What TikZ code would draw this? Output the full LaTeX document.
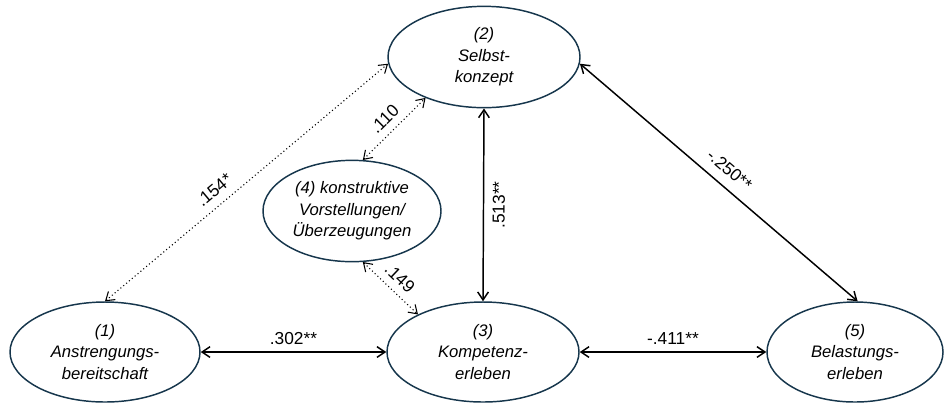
\documentclass[tikz,border=0pt]{standalone}
\usepackage{fontspec}
\setmainfont{Liberation Sans}
\usetikzlibrary{arrows.meta,shapes.geometric}
\definecolor{rim}{RGB}{22,54,76}

\begin{document}
\begin{tikzpicture}[x=0.75pt,y=-0.75pt,
	latent/.style={ellipse,draw=rim,line width=1.1pt,inner sep=0pt,align=center,
		font=\fontsize{12.5}{16}\selectfont\itshape},
	cor/.style={line width=1.1pt,{Straight Barb[length=6pt,width=8pt]}-{Straight Barb[length=6pt,width=8pt]}},
	weak/.style={line width=0.8pt,dotted,{Straight Barb[length=6pt,width=8pt]}-{Straight Barb[length=6pt,width=8pt]}},
	coef/.style={font=\fontsize{13}{14}\selectfont}]
			%%%%% START %%%%%
			\useasboundingbox (0, 0) rectangle (944, 405);
			
			\node[latent, minimum width=142.5pt, minimum height=75pt] (an) at (105, 352) {(1)\\Anstrengungs-\\bereitschaft};
			\node[latent, minimum width=144pt, minimum height=76pt] (sk) at (484, 57) {(2)\\Selbst-\\konzept};
			\node[latent, minimum width=144pt, minimum height=75pt] (km) at (483, 352) {(3)\\Kompetenz-\\erleben};
			\node[latent, minimum width=133.5pt, minimum height=76pt] (kv) at (352, 211) {(4) konstruktive\\Vorstellungen/\\Überzeugungen};
			\node[latent, minimum width=132pt, minimum height=75pt] (be) at (855, 352) {(5)\\Belastungs-\\erleben};
			
			\draw[cor] (an.east) -- node[coef, above=2pt] {.302**} (km.west);
			\draw[cor] (km.east) -- node[coef, above=2pt] {-.411**} (be.west);
			\draw[cor] (km.north) -- node[coef, sloped, below=3pt] {.513**} (sk.south);
			\draw[cor] (sk.-4) -- node[coef, sloped, above=4pt] {-.250**} (be.87);
			
			\draw[weak] (an.north) -- node[coef, sloped, above=3pt, pos=0.42] {.154*} (sk.184);
			\draw[weak] (kv.78) -- node[coef, sloped, above=2pt] {.110} (sk.215);
			\draw[weak] (kv.-78) -- node[coef, sloped, above=2pt] {.149} (km.150);
			
			%%%%% END %%%%%
\end{tikzpicture}
\end{document}
